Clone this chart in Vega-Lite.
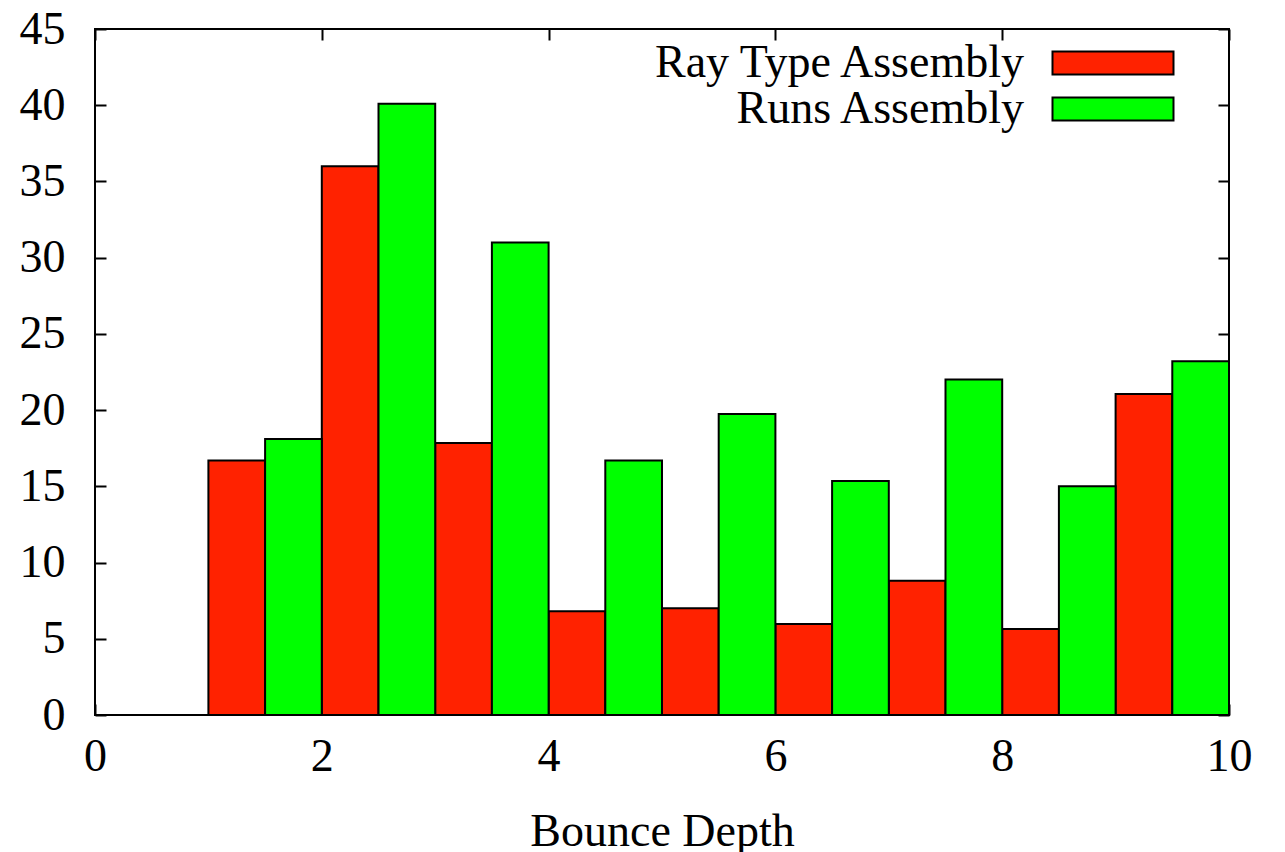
{
  "$schema": "https://vega.github.io/schema/vega-lite/v6.json",
  "width": 1134,
  "height": 686,
  "autosize": "none",
  "padding": {"left": 95, "top": 29, "right": 56, "bottom": 137},
  "background": "white",
  "config": {
    "font": "Liberation Serif",
    "view": {"stroke": "black", "strokeWidth": 2},
    "axis": {
      "domain": false,
      "grid": false,
      "tickColor": "black",
      "tickWidth": 2,
      "tickSize": -11,
      "labelFlush": false,
      "labelFont": "Liberation Serif",
      "labelFontSize": 46,
      "labelColor": "black",
      "titleFont": "Liberation Serif",
      "titleFontSize": 46,
      "titleFontWeight": "normal",
      "titleColor": "black"
    }
  },
  "data": {
    "values": [
      {"depth": 1, "series": "Ray Type Assembly", "value": 16.7},
      {"depth": 2, "series": "Ray Type Assembly", "value": 36.0},
      {"depth": 3, "series": "Ray Type Assembly", "value": 17.85},
      {"depth": 4, "series": "Ray Type Assembly", "value": 6.8},
      {"depth": 5, "series": "Ray Type Assembly", "value": 7.0},
      {"depth": 6, "series": "Ray Type Assembly", "value": 5.97},
      {"depth": 7, "series": "Ray Type Assembly", "value": 8.8},
      {"depth": 8, "series": "Ray Type Assembly", "value": 5.64},
      {"depth": 9, "series": "Ray Type Assembly", "value": 21.05},
      {"depth": 1, "series": "Runs Assembly", "value": 18.1},
      {"depth": 2, "series": "Runs Assembly", "value": 40.1},
      {"depth": 3, "series": "Runs Assembly", "value": 31.0},
      {"depth": 4, "series": "Runs Assembly", "value": 16.7},
      {"depth": 5, "series": "Runs Assembly", "value": 19.75},
      {"depth": 6, "series": "Runs Assembly", "value": 15.35},
      {"depth": 7, "series": "Runs Assembly", "value": 22.0},
      {"depth": 8, "series": "Runs Assembly", "value": 15.0},
      {"depth": 9, "series": "Runs Assembly", "value": 23.2}
    ]
  },
  "transform": [
    {"calculate": "datum.depth + (datum.series == 'Runs Assembly' ? 0.5 : 0)", "as": "lo"},
    {"calculate": "datum.lo + 0.5", "as": "hi"}
  ],
  "layer": [
    {
      "mark": {"type": "rect", "stroke": "black", "strokeWidth": 2},
      "encoding": {
        "x": {
          "field": "lo", "type": "quantitative",
          "scale": {"domain": [0, 10], "nice": false, "zero": false},
          "axis": {"orient": "bottom", "values": [0, 2, 4, 6, 8, 10], "title": "Bounce Depth", "labelPadding": 30, "titlePadding": 30}
        },
        "x2": {"field": "hi"},
        "y": {
          "field": "value", "type": "quantitative",
          "scale": {"domain": [0, 45], "nice": false},
          "axis": {"orient": "left", "values": [0, 5, 10, 15, 20, 25, 30, 35, 40, 45], "title": null, "labelPadding": 41}
        },
        "y2": {"datum": 0},
        "color": {
          "field": "series", "type": "nominal",
          "scale": {"domain": ["Ray Type Assembly", "Runs Assembly"], "range": ["#ff2200", "#00ff00"]},
          "legend": {
            "orient": "none",
            "legendX": 995,
            "legendY": 11,
            "title": null,
            "symbolType": "M-4,-0.76H4V0.76H-4Z",
            "symbolSize": 915,
            "symbolStrokeColor": "black",
            "symbolStrokeWidth": 2,
            "symbolOpacity": 1,
            "labelAlign": "right",
            "labelBaseline": "middle",
            "labelOffset": -112,
            "labelFont": "Liberation Serif",
            "labelFontSize": 46,
            "labelColor": "black",
            "labelLimit": 0,
            "rowPadding": 0,
            "padding": 0
          }
        }
      }
    },
    {
      "mark": {"type": "rect", "opacity": 0},
      "encoding": {
        "x": {
          "field": "lo", "type": "quantitative",
          "axis": {"orient": "top", "values": [0, 2, 4, 6, 8, 10], "labels": false, "title": null}
        },
        "x2": {"field": "hi"},
        "y": {
          "field": "value", "type": "quantitative",
          "axis": {"orient": "right", "values": [0, 5, 10, 15, 20, 25, 30, 35, 40, 45], "labels": false, "title": null}
        },
        "y2": {"datum": 0}
      }
    }
  ]
}
